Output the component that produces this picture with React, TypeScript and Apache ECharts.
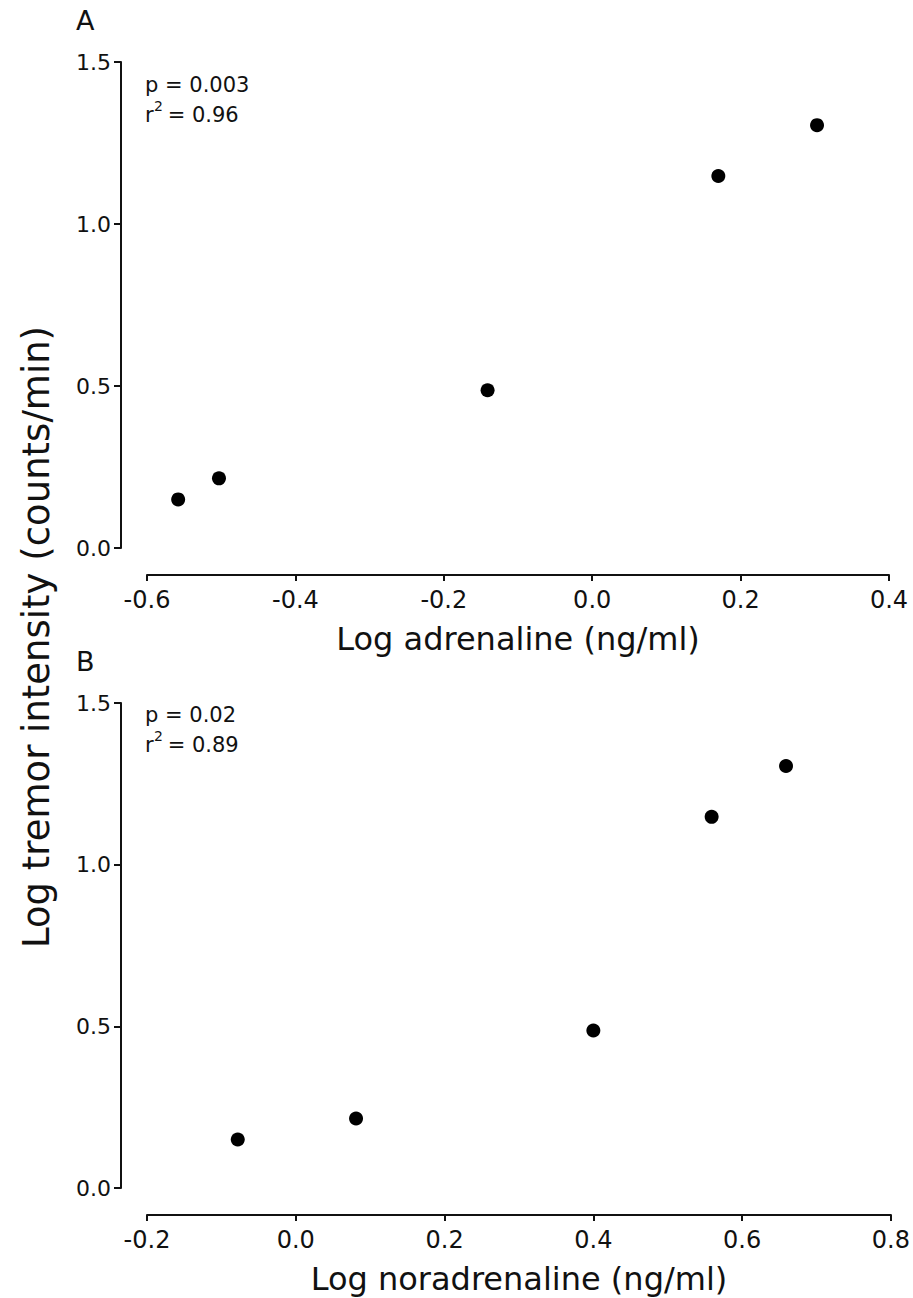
import React, { useEffect, useRef } from "react";
import * as echarts from "echarts";

const tremor = [0.15, 0.215, 0.487, 1.148, 1.305];
const adrenaline = [-0.558, -0.503, -0.141, 0.17, 0.303];
const noradrenaline = [-0.078, 0.081, 0.4, 0.559, 0.659];

const xTicksA = { min: -0.6, max: 0.4, interval: 0.2 };
const xTicksB = { min: -0.2, max: 0.8, interval: 0.2 };
const yTicks = { min: 0, max: 1.5, interval: 0.5 };

const panelLabels = ["A", "B"];
const xNames = ["Log adrenaline (ng/ml)", "Log noradrenaline (ng/ml)"];
const yName = "Log tremor intensity (counts/min)";
const pValues = ["p = 0.003", "p = 0.02"];
const r2Values = [" = 0.96", " = 0.89"];

const FONT = "DejaVu Sans";
const INK = "#111111";

const fmt = (v: number) => (Math.abs(v) < 1e-9 ? "0.0" : v.toFixed(1));

export default function App() {
  const ref = useRef<HTMLDivElement>(null);
  useEffect(() => {
    if (!ref.current) return;
    const chart = echarts.init(ref.current, null, { renderer: "svg" });
    const grids = [
      { left: 147, width: 742, top: 62, height: 486 },
      { left: 147, width: 746, top: 703, height: 485 },
    ];
    const xRanges = [xTicksA, xTicksB];
    const xData = [adrenaline, noradrenaline];
    const annoTops = [74, 704];
    const panelTops = [7, 648];

    const graphics: any[] = [];
    panelLabels.forEach((lab, i) => {
      graphics.push({
        type: "text",
        left: 76,
        top: panelTops[i],
        style: { text: lab, font: `27px '${FONT}'`, fill: INK },
      });
      graphics.push({
        type: "text",
        left: 145,
        top: annoTops[i],
        style: { text: pValues[i], font: `21px '${FONT}'`, fill: INK },
      });
      graphics.push({
        type: "text",
        left: 145,
        top: annoTops[i] + 30,
        style: { text: "r", font: `21px '${FONT}'`, fill: INK },
      });
      graphics.push({
        type: "text",
        left: 154,
        top: annoTops[i] + 25,
        style: { text: "2", font: `14px '${FONT}'`, fill: INK },
      });
      graphics.push({
        type: "text",
        left: 161,
        top: annoTops[i] + 30,
        style: { text: r2Values[i], font: `21px '${FONT}'`, fill: INK },
      });
    });
    graphics.push({
      type: "text",
      x: 36,
      y: 637,
      rotation: Math.PI / 2,
      style: {
        text: yName,
        font: `37px '${FONT}'`,
        fill: INK,
        align: "center",
        verticalAlign: "middle",
      },
    });

    chart.setOption({
      animation: false,
      backgroundColor: "#ffffff",
      grid: grids,
      xAxis: xRanges.map((r, i) => ({
        type: "value",
        gridIndex: i,
        min: r.min,
        max: r.max,
        interval: r.interval,
        position: "bottom",
        offset: 27,
        name: xNames[i],
        nameLocation: "middle",
        nameGap: 48,
        nameTextStyle: { fontFamily: FONT, fontSize: 32, color: INK },
        axisLine: { show: true, onZero: false, lineStyle: { color: INK, width: 2 } },
        axisTick: { show: true, inside: false, length: 6, lineStyle: { color: INK, width: 2 } },
        axisLabel: {
          fontFamily: FONT,
          fontSize: 24,
          color: INK,
          margin: 13,
          formatter: fmt,
        },
        splitLine: { show: false },
      })),
      yAxis: grids.map((_, i) => ({
        type: "value",
        gridIndex: i,
        min: yTicks.min,
        max: yTicks.max,
        interval: yTicks.interval,
        position: "left",
        offset: 26,
        axisLine: { show: true, onZero: false, lineStyle: { color: INK, width: 2 } },
        axisTick: { show: true, inside: false, length: 7, lineStyle: { color: INK, width: 2 } },
        axisLabel: {
          fontFamily: FONT,
          fontSize: 22,
          color: INK,
          margin: 10,
          formatter: fmt,
        },
        splitLine: { show: false },
      })),
      series: xData.map((xs, i) => ({
        type: "scatter",
        xAxisIndex: i,
        yAxisIndex: i,
        symbol: "circle",
        symbolSize: 14,
        itemStyle: { color: "#000000", opacity: 1 },
        data: xs.map((x, k) => [x, tremor[k]]),
      })),
      graphic: graphics,
    });
    return () => chart.dispose();
  }, []);
  return (
    <div
      ref={ref}
      style={{ position: "absolute", left: 0, top: 0, width: 913, height: 1298 }}
    />
  );
}
